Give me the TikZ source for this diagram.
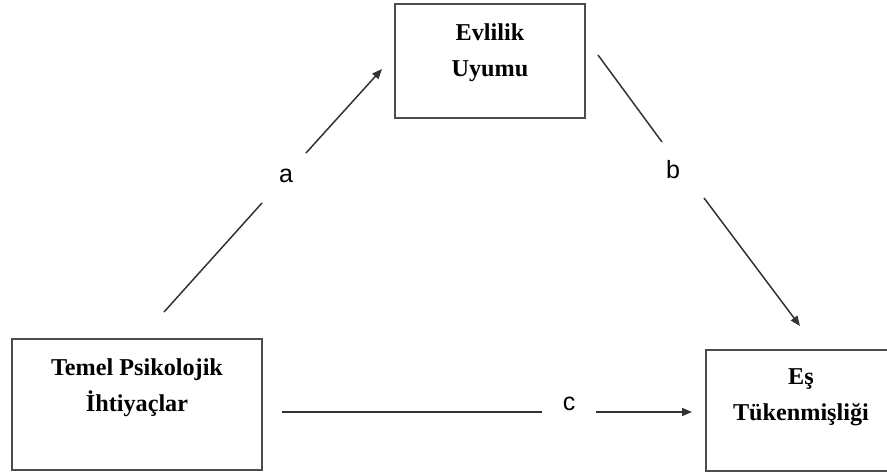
\documentclass[tikz,border=0pt]{standalone}
\usepackage{fontspec}
\setmainfont{Liberation Serif}
\newfontfamily\lblfont{Liberation Sans}
\usetikzlibrary{arrows.meta}
\begin{document}
\begin{tikzpicture}[x=1pt,y=-1pt,
  boxstyle/.style={draw=black!70, line width=1.6pt, rectangle, inner sep=0pt},
  boxtext/.style={font=\fontsize{24.2}{36}\selectfont\bfseries, align=center, inner sep=0pt},
  pathlabel/.style={font=\lblfont\fontsize{25}{28}\selectfont, inner sep=0pt},
  conn/.style={draw=black!80, line width=1.5pt},
  arr/.style={conn, -{Triangle[length=10pt,width=8pt]}}]
\useasboundingbox (0,0) rectangle (887,472);
% boxes
\node[boxstyle, minimum width=190, minimum height=114] (eu) at (490,61) {};
\node[boxstyle, minimum width=250, minimum height=131] (tp) at (137,404.5) {};
\node[boxstyle, minimum width=190, minimum height=121] (et) at (801,410.5) {};
% box texts (anchor at the baseline of the last line)
\node[boxtext, anchor=base] (eut) at (490,76) {Evlilik\\Uyumu};
\node[boxtext, anchor=base] (tpt) at (137,411) {Temel Psikolojik\\İhtiyaçlar};
\node[boxtext, anchor=base] (ett) at (801,420) {Eş\\Tükenmişliği};
% connector end points
\coordinate (a1) at (164,312);
\coordinate (a2) at (262,203);
\coordinate (a3) at (306,153);
\coordinate (a4) at (382,69);
\coordinate (b1) at (598,55);
\coordinate (b2) at (662,142);
\coordinate (b3) at (704,198);
\coordinate (b4) at (800,326);
\coordinate (c1) at (282,412);
\coordinate (c2) at (542,412);
\coordinate (c3) at (596,412);
\coordinate (c4) at (692,412);
% connectors
\draw[conn] (a1) -- (a2);
\draw[arr] (a3) -- (a4);
\draw[conn] (b1) -- (b2);
\draw[arr] (b3) -- (b4);
\draw[conn] (c1) -- (c2);
\draw[arr] (c3) -- (c4);
% labels
\node[pathlabel] (la) at (286,176) {a};
\node[pathlabel] (lb) at (673,170) {b};
\node[pathlabel] (lc) at (569,404) {c};
\end{tikzpicture}
\end{document}
